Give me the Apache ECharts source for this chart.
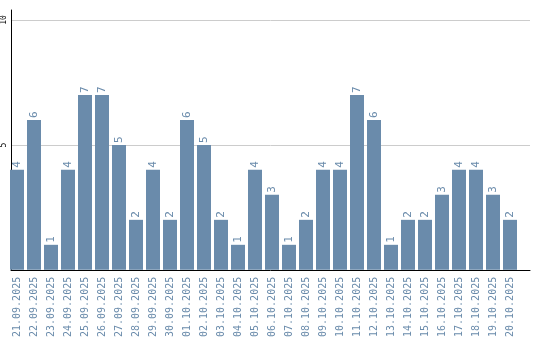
<!DOCTYPE html>
<html><head><meta charset="utf-8">
<script src="https://cdn.jsdelivr.net/npm/echarts@6/dist/echarts.min.js"></script>
<style>html,body{margin:0;padding:0;background:#fff}#c{width:540px;height:340px}</style>
</head><body><div id="c"></div>
<script>
const categories = ["21.09.2025","22.09.2025","23.09.2025","24.09.2025","25.09.2025","26.09.2025","27.09.2025","28.09.2025","29.09.2025","30.09.2025","01.10.2025","02.10.2025","03.10.2025","04.10.2025","05.10.2025","06.10.2025","07.10.2025","08.10.2025","09.10.2025","10.10.2025","11.10.2025","12.10.2025","13.10.2025","14.10.2025","15.10.2025","16.10.2025","17.10.2025","18.10.2025","19.10.2025","20.10.2025"];
const values = [4,6,1,4,7,7,5,2,4,2,6,5,2,1,4,3,1,2,4,4,7,6,1,2,2,3,4,4,3,2];
const yTicks = [5,10];

const barColor = '#6a8bab';
const mono = '"DejaVu Sans Mono", monospace';
const chart = echarts.init(document.getElementById('c'));
chart.setOption({
  animation: false,
  grid: [
    {left: 10, right: 10, top: 10, bottom: 70, containLabel: false},
    {left: 8.5, right: 21.5, top: 10, bottom: 70, containLabel: false}
  ],
  xAxis: [
    {gridIndex: 0, type: 'value', min: 0, max: 1, axisLine: {show: true, onZero: false, lineStyle: {color: '#000', width: 1}},
     axisTick: {show: false}, axisLabel: {show: false}, splitLine: {show: false}},
    {gridIndex: 1, type: 'category', data: categories, axisLine: {show: false}, axisTick: {show: false},
     axisLabel: {interval: 0, rotate: 90, color: barColor, fontFamily: mono, fontSize: 10, margin: 7}}
  ],
  yAxis: [
    {gridIndex: 0, type: 'value', min: 0, max: 10.4, interval: 5,
     axisLine: {show: true, lineStyle: {color: '#000', width: 1}}, axisTick: {show: false},
     axisLabel: {rotate: 90, color: '#000', fontFamily: mono, fontSize: 8, margin: 3, showMaxLabel: false,
       formatter: v => yTicks.includes(v) ? String(v) : ''},
     splitLine: {show: true, showMaxLine: false, showMinLine: false, lineStyle: {color: '#cccccc', width: 1}}},
    {gridIndex: 1, type: 'value', min: 0, max: 10.4, show: false, splitLine: {show: false}}
  ],
  series: [{
    type: 'bar', xAxisIndex: 1, yAxisIndex: 1, data: values, barWidth: 14,
    itemStyle: {color: barColor},
    label: {show: true, position: 'top', rotate: 90, align: 'left', verticalAlign: 'middle', distance: 2,
      color: barColor, fontFamily: mono, fontSize: 11}
  }]
});
</script></body></html>
